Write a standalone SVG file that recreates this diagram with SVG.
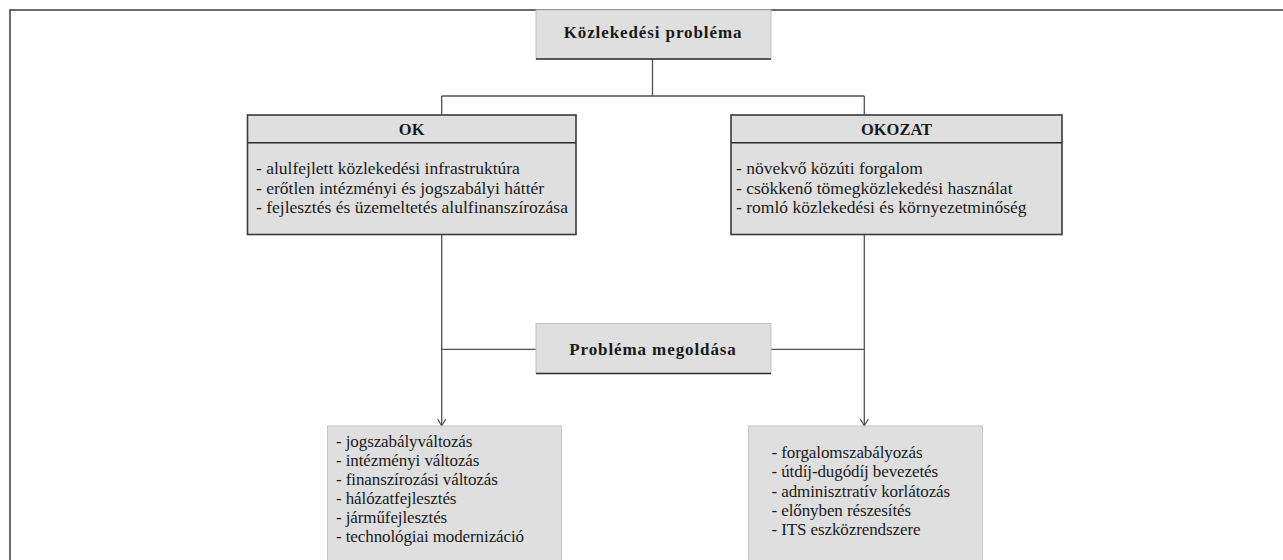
<svg xmlns="http://www.w3.org/2000/svg" width="1283" height="560" viewBox="0 0 1283 560">
  <style>
    .frame { fill: none; stroke: #6a6a6a; stroke-width: 2; }
    .soft { fill: #dfdfdf; stroke: #c4c4c4; stroke-width: 1; }
    .hard { fill: #dfdfdf; stroke: #3a3a3a; stroke-width: 1.6; }
    .rule { stroke: #2a2a2a; stroke-width: 1.4; fill: none; }
    .conn { stroke: #505050; stroke-width: 1.3; fill: none; }
    .title { font-family: "Liberation Serif", "Times New Roman", serif; font-weight: bold; font-size: 17px; letter-spacing: 0.9px; fill: #1a1a1a; text-anchor: middle; }
    .head { font-family: "Liberation Serif", "Times New Roman", serif; font-weight: bold; font-size: 16.5px; fill: #1a1a1a; text-anchor: middle; }
    .item { font-family: "Liberation Serif", "Times New Roman", serif; font-size: 17.5px; fill: #1a1a1a; }
    .item2 { font-family: "Liberation Serif", "Times New Roman", serif; font-size: 17px; letter-spacing: -0.1px; fill: #1a1a1a; }
  </style>
  <defs>
    <!-- open V arrowhead, tip at the line end -->
    <marker id="arrow" markerUnits="userSpaceOnUse" markerWidth="10" markerHeight="10" refX="10" refY="5" orient="auto" viewBox="0 0 10 10">
      <path d="M3,1 L10,5 L3,9" fill="none" stroke="#505050" stroke-width="1.2"/>
    </marker>
  </defs>

  <rect width="1283" height="560" fill="#ffffff"/>
  <!-- page frame: top and left edges -->
  <path class="frame" d="M10,560 L10,10 L1283,10"/>

  <g id="connectors">
    <line class="conn" x1="652.5" y1="59" x2="652.5" y2="96"/>
    <line class="conn" x1="441.7" y1="96" x2="864.3" y2="96"/>
    <line class="conn" x1="441.7" y1="96" x2="441.7" y2="115"/>
    <line class="conn" x1="864.3" y1="96" x2="864.3" y2="115"/>
    <line class="conn" x1="441.7" y1="234" x2="441.7" y2="426" marker-end="url(#arrow)"/>
    <line class="conn" x1="864.3" y1="234" x2="864.3" y2="426" marker-end="url(#arrow)"/>
    <line class="conn" x1="441.7" y1="349.3" x2="536" y2="349.3"/>
    <line class="conn" x1="771" y1="349.3" x2="864.3" y2="349.3"/>
  </g>

  <g id="problem">
    <rect class="soft" x="536" y="10" width="235" height="49"/>
    <line class="rule" x1="536" y1="59" x2="771" y2="59"/>
    <text class="title" x="653" y="38">Közlekedési probléma</text>
  </g>

  <g id="cause">
    <rect class="hard" x="247.5" y="115" width="328.5" height="119.5"/>
    <line class="rule" x1="247.5" y1="142.7" x2="576" y2="142.7"/>
    <text class="head" x="411.7" y="135">OK</text>
    <text class="item" x="256" y="174">- alulfejlett közlekedési infrastruktúra</text>
    <text class="item" x="256" y="193.5">- erőtlen intézményi és jogszabályi háttér</text>
    <text class="item" x="256" y="213">- fejlesztés és üzemeltetés alulfinanszírozása</text>
  </g>

  <g id="effect">
    <rect class="hard" x="731" y="115" width="331" height="119.5"/>
    <line class="rule" x1="731" y1="142.7" x2="1062" y2="142.7"/>
    <text class="head" x="896.5" y="135">OKOZAT</text>
    <text class="item" x="736" y="174">- növekvő közúti forgalom</text>
    <text class="item" x="736" y="193.5">- csökkenő tömegközlekedési használat</text>
    <text class="item" x="736" y="213">- romló közlekedési és környezetminőség</text>
  </g>

  <g id="solution">
    <rect class="soft" x="536" y="323.5" width="235" height="50"/>
    <line class="rule" x1="536" y1="373.5" x2="771" y2="373.5"/>
    <text class="title" x="653" y="355">Probléma megoldása</text>
  </g>

  <g id="measures-left">
    <rect class="soft" x="327.5" y="426" width="234" height="140"/>
    <text class="item2" x="336" y="446.5">- jogszabályváltozás</text>
    <text class="item2" x="336" y="465.5">- intézményi változás</text>
    <text class="item2" x="336" y="484.5">- finanszírozási változás</text>
    <text class="item2" x="336" y="503.5">- hálózatfejlesztés</text>
    <text class="item2" x="336" y="522.5">- járműfejlesztés</text>
    <text class="item2" x="336" y="541.5">- technológiai modernizáció</text>
  </g>

  <g id="measures-right">
    <rect class="soft" x="748.5" y="426" width="234" height="140"/>
    <text class="item2" x="771.5" y="458">- forgalomszabályozás</text>
    <text class="item2" x="771.5" y="477">- útdíj-dugódíj bevezetés</text>
    <text class="item2" x="771.5" y="496.5">- adminisztratív korlátozás</text>
    <text class="item2" x="771.5" y="516">- előnyben részesítés</text>
    <text class="item2" x="771.5" y="535">- ITS eszközrendszere</text>
  </g>
</svg>
